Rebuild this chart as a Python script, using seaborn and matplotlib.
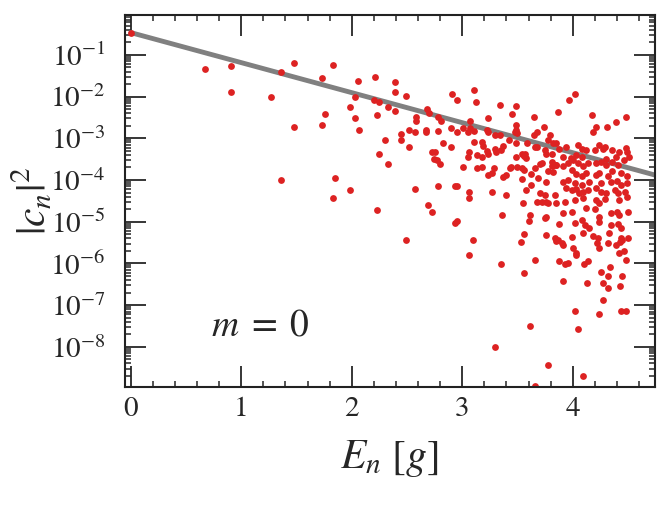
import numpy as np
import pandas as pd
import matplotlib
matplotlib.use("Agg")
import matplotlib.pyplot as plt
import seaborn as sns
from matplotlib.ticker import LogLocator, MultipleLocator, NullFormatter

# energies E_n (units of g) and log10 |c_n|^2
energy = [
    0.00, 0.67, 0.91, 0.91, 1.36, 1.48, 1.27, 1.73, 1.83, 2.06, 2.03, 1.98, 1.76, 2.03, 1.48, 1.73, 2.07, 1.36, 1.85, 1.98, 1.83,
    2.25, 2.33, 2.74, 2.77, 2.80, 2.57, 2.78, 2.93, 2.95, 2.23, 2.69, 2.73, 2.93, 2.95, 2.49,
    2.21, 2.39, 2.39, 2.49, 2.20, 2.25, 2.33, 2.39, 2.23, 2.30, 2.45, 2.45, 2.52, 2.57, 2.52, 2.58, 2.58, 2.68, 2.70, 2.67,
    2.67, 2.78, 2.81, 2.78, 2.73, 2.75, 2.91, 2.95, 2.90, 2.95, 2.83, 2.90,
    3.11, 3.12, 3.34, 3.49, 3.45, 3.65, 3.87, 3.23, 3.07, 3.01, 3.05, 3.07, 3.11, 3.22, 3.23, 3.30, 3.34, 3.49, 3.49, 3.50,
    3.48, 3.42, 3.59, 3.49, 3.65, 3.68, 3.74, 3.79, 3.78, 3.82, 3.85, 3.11, 3.18, 3.19, 3.06, 3.22, 3.23, 3.30, 3.31, 3.35,
    3.37, 3.54, 3.57, 3.66, 3.68, 3.75, 3.76, 3.05, 3.13, 3.18, 3.49,
    4.02, 3.97, 4.17, 4.48, 4.39, 4.21, 4.18, 4.31, 3.88, 3.94, 4.05, 4.08, 4.12, 4.20, 4.24, 4.27, 4.29, 4.36, 4.42, 4.48,
    4.49, 3.91, 3.98, 4.03, 4.08, 4.30, 4.39, 4.51,
    3.01, 3.13, 3.18, 3.29, 3.27, 3.23, 3.37, 3.40, 3.43, 3.44, 3.50, 3.54, 3.56, 3.54, 3.62, 3.66, 3.70, 3.72, 3.69, 3.76,
    3.62, 3.58, 3.78, 3.81, 3.85, 3.81, 3.56, 3.58, 3.06, 3.06, 3.27, 3.40, 3.55, 3.70, 3.75, 3.72, 3.68, 3.76, 3.78, 3.36,
    3.61, 3.60, 3.75, 3.76, 3.10, 3.56, 3.53, 3.76,
    3.06, 3.35, 3.56, 3.66, 3.61, 3.30, 3.78, 3.66, 3.85,
    4.09, 4.05, 4.02, 4.24, 4.44, 4.48, 4.27, 3.91, 4.13, 4.27, 4.32, 4.43, 4.26, 4.32, 4.34, 4.45, 3.88, 3.93, 3.96, 4.10,
    4.14, 4.48, 4.42, 4.46, 4.03, 4.03, 4.00, 4.24, 4.22, 4.32, 4.39, 4.43, 4.45, 3.90, 3.91,
    3.81, 3.85, 3.91, 3.96, 4.00, 4.05, 4.09, 4.14, 4.21, 4.26, 4.30, 4.36, 4.41, 4.46,
    3.82, 3.99, 4.03, 4.08, 4.12, 4.21, 4.24, 4.32, 4.36, 4.44, 4.49,
    3.91, 3.96, 4.02, 4.08, 4.15, 4.26, 4.35, 4.40, 4.44, 4.49,
    3.94, 3.99, 4.03, 4.06, 4.09, 4.14, 4.21, 4.26, 4.30, 4.38, 4.41, 4.47,
    3.84, 3.85, 3.93, 4.02, 4.09, 4.21, 4.24, 4.29, 4.42, 4.49,
    3.91, 3.99, 4.12, 4.20, 4.24, 4.35, 4.40, 4.42, 4.50,
    3.88, 4.02, 4.08, 4.11, 4.15, 4.24, 4.35, 4.41, 4.44,
    3.84, 3.87, 3.99, 4.09, 4.18, 4.23, 4.33, 4.44, 4.50,
]
log_weight = [
    -0.48, -1.34, -1.27, -1.90, -1.41, -1.20, -2.01, -1.55, -1.23, -1.62, -2.01, -2.26, -2.41, -2.51, -2.72, -2.69, -2.79, -4.00, -3.96, -4.24, -4.42,
    -3.37, -3.61, -3.50, -3.53, -3.61, -4.21, -4.14, -4.14, -4.14, -4.71, -4.60, -4.77, -5.02, -4.98, -5.44,
    -1.52, -1.66, -1.88, -1.98, -2.08, -2.12, -2.26, -2.34, -2.44, -3.04, -2.89, -3.04, -2.80, -2.86, -3.22, -2.48, -2.58, -2.30, -2.40, -2.80,
    -2.86, -2.50, -2.58, -2.82, -3.32, -3.33, -1.94, -2.09, -2.76, -2.86, -3.11, -3.22,
    -1.84, -2.12, -2.19, -2.23, -2.41, -2.48, -2.37, -2.51, -2.58, -2.76, -2.86, -2.76, -2.82, -2.80, -2.86, -2.93, -2.93, -2.69, -2.80, -2.88,
    -2.84, -3.04, -3.11, -3.12, -2.93, -2.85, -2.73, -2.93, -3.04, -3.12, -3.12, -3.08, -3.08, -3.18, -3.32, -3.30, -3.38, -3.26, -3.34, -3.28,
    -3.18, -3.38, -3.38, -3.20, -3.20, -3.28, -3.38, -3.44, -3.40, -3.45, -3.46,
    -1.94, -2.09, -2.44, -2.48, -2.61, -2.72, -2.86, -2.72, -3.25, -3.22, -3.16, -3.25, -3.28, -3.28, -3.16, -3.26, -3.22, -3.28, -3.33, -3.24,
    -3.34, -3.44, -3.48, -3.40, -3.44, -3.50, -3.44, -3.44,
    -3.68, -3.72, -3.68, -3.72, -3.84, -3.89, -3.92, -3.89, -3.72, -3.68, -3.68, -3.72, -3.76, -3.97, -3.85, -3.72, -3.62, -3.60, -3.96, -4.04,
    -4.13, -4.25, -3.78, -3.66, -3.64, -3.37, -3.42, -3.47, -4.28, -4.43, -4.28, -4.35, -4.56, -4.32, -4.36, -4.52, -4.52, -4.52, -4.56, -4.84,
    -4.84, -4.98, -4.92, -4.88, -5.44, -5.30, -5.48, -5.32,
    -5.80, -6.01, -6.23, -5.92, -7.51, -8.00, -8.43, -8.93, -5.46,
    -8.70, -7.57, -7.15, -7.22, -7.15, -7.15, -6.87, -6.41, -6.47, -6.47, -6.58, -6.54, -6.20, -6.30, -6.08, -6.30, -5.94, -6.02, -5.98, -6.02,
    -5.94, -5.92, -5.74, -5.70, -5.75, -5.80, -5.62, -5.62, -5.50, -5.50, -5.56, -5.48, -5.44, -5.50, -5.56,
    -3.56, -3.64, -3.66, -3.58, -3.52, -3.58, -3.66, -3.60, -3.60, -3.56, -3.64, -3.56, -3.64, -3.52,
    -3.80, -3.76, -3.86, -3.90, -3.84, -3.88, -3.84, -3.90, -3.78, -3.84, -3.90,
    -4.04, -4.00, -4.08, -4.12, -4.04, -4.08, -4.04, -4.02, -4.12, -4.08,
    -4.20, -4.24, -4.22, -4.32, -4.28, -4.24, -4.20, -4.28, -4.32, -4.24, -4.32, -4.28,
    -4.36, -4.54, -4.52, -4.48, -4.44, -4.48, -4.56, -4.46, -4.48, -4.40,
    -4.80, -4.76, -4.68, -4.70, -4.88, -4.80, -4.76, -4.84, -4.76,
    -5.06, -5.02, -4.96, -5.08, -5.14, -5.00, -5.08, -5.06, -5.16,
    -5.40, -5.44, -5.36, -5.28, -5.34, -5.40, -5.28, -5.40, -5.38,
]

# exponential guide line (gray), end points
line_energy = [0.0, 4.8]
line_weight = [0.343, 1.2e-4]

df = pd.DataFrame({"E": energy, "c2": 10.0 ** np.array(log_weight)})
df_line = pd.DataFrame({"E": line_energy, "c2": line_weight})

sns.set_style("ticks")
plt.rcParams["font.family"] = ["STIXGeneral", "DejaVu Serif"]
plt.rcParams["mathtext.fontset"] = "stix"

fig = plt.figure(figsize=(6.64, 5.05), dpi=100)
ax = fig.add_axes([0.188, 0.234, 0.798, 0.737])

sns.lineplot(data=df_line, x="E", y="c2", color="#808080", linewidth=3.5, ax=ax, zorder=1)
sns.scatterplot(data=df, x="E", y="c2", color="#dd2222", s=24, linewidth=0, ax=ax, zorder=2)

ax.set_yscale("log")
ax.set_xlim(-0.054, 4.742)
ax.set_ylim(10 ** -8.96, 10 ** -0.034)

ax.xaxis.set_major_locator(MultipleLocator(1))
ax.xaxis.set_minor_locator(MultipleLocator(0.2))
ax.yaxis.set_major_locator(LogLocator(base=10, numticks=20))
ax.yaxis.set_minor_locator(LogLocator(base=10, subs=np.arange(2, 10), numticks=20))
ax.yaxis.set_minor_formatter(NullFormatter())

ax.tick_params(which="both", direction="in", top=True, right=True, labelsize=21)
ax.tick_params(axis="x", pad=7)
ax.tick_params(axis="y", pad=14)
ax.tick_params(which="major", length=15, width=1.3)
ax.tick_params(which="minor", length=4.5, width=1.1)
for sp in ax.spines.values():
    sp.set_linewidth(1.5)
    sp.set_color("#222222")

ax.set_xlabel(r"$E_n\ [g]$", fontsize=30, labelpad=12)
ax.set_ylabel(r"$|c_n|^2$", fontsize=30, labelpad=-4)
ax.text(0.162, 0.138, r"$m\;=\;0$", transform=ax.transAxes, fontsize=27,
        ha="left", va="baseline")

fig.savefig("out.png", dpi=100)
plt.close(fig)
